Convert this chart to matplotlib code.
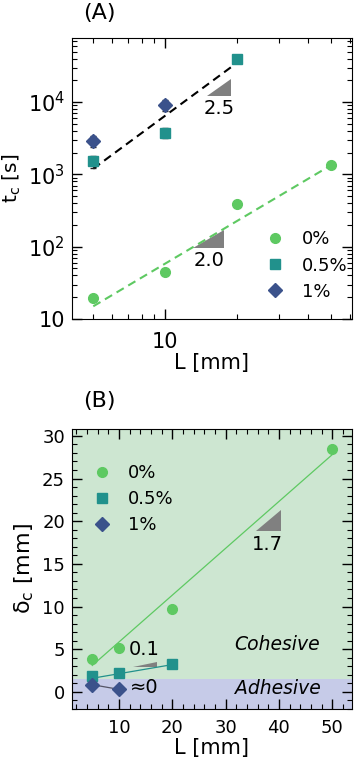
import matplotlib
matplotlib.use("Agg")
import matplotlib.pyplot as plt
from matplotlib.ticker import LogLocator, FixedLocator, FixedFormatter, MultipleLocator, NullFormatter
import numpy as np

plt.rcParams['font.family'] = ['DejaVu Sans']
plt.rcParams['font.size'] = 12

# colours for the three concentrations
C0 = '#5ec962'
C05 = '#21918c'
C1 = '#3b528b'

labels = ['0%', '0.5%', '1%']

# panel A : critical time vs length
L0_a = [5, 10, 20, 50]
tc0 = [19.3, 45, 389, 1360]
L05_a = [5, 10, 20]
tc05 = [1515, 3780, 39400]
tc05_err = [300, 600, 0]
L1_a = [5, 10]
tc1 = [2870, 9040]
tc1_err = [500, 1500]

fit_black_x = [5, 20]
fit_black_y = [1200, 34700]
fit_green_x = [5, 50]
fit_green_y = [15, 1350]

# panel B : critical displacement vs length
L0_b = [5, 10, 20, 50]
d0 = [3.86, 5.19, 9.72, 28.45]
L05_b = [5, 10, 20]
d05 = [1.83, 2.22, 3.31]
L1_b = [5, 10]
d1 = [0.85, 0.39]

line0_x = [5, 50]
line0_y = [3.1, 27.8]
line05_x = [5, 20]
line05_y = [1.6, 3.2]
line1_x = [5, 10]
line1_y = [0.85, 0.3]

fig = plt.figure(figsize=(3.55, 7.59), dpi=100)
W, H = 355, 759
axA = fig.add_axes([72 / W, 1 - 319 / H, 280 / W, 281 / H])
axB = fig.add_axes([72 / W, 1 - 709 / H, 280 / W, 280 / H])

tick_kw = dict(direction='in', top=True, right=True)

# ---------- panel A ----------
axA.set_xscale('log')
axA.set_yscale('log')
axA.plot(fit_black_x, fit_black_y, '--', color='black', lw=1.5, dashes=(4, 2.5), zorder=2)
axA.plot(fit_green_x, fit_green_y, '--', color=C0, lw=1.5, dashes=(4, 2.5), zorder=2)
axA.errorbar(L05_a, tc05, yerr=tc05_err, fmt='none', ecolor='#222222',
             elinewidth=0.8, capsize=2.5, zorder=2.5)
axA.errorbar(L1_a, tc1, yerr=tc1_err, fmt='none', ecolor='#222222',
             elinewidth=0.8, capsize=2.5, zorder=2.5)
axA.plot(L0_a, tc0, 'o', color=C0, ms=7, label=labels[0], zorder=3)
axA.plot(L05_a, tc05, 's', color=C05, ms=7, label=labels[1], zorder=3)
axA.plot(L1_a, tc1, 'D', color=C1, ms=7, label=labels[2], zorder=3)

axA.fill([14.96, 18.9, 18.9], [12100, 12100, 20700], color='gray', lw=0)
axA.text(16.9, 11000, '2.5', ha='center', va='top', fontsize=14)
axA.fill([13.15, 17.7, 17.7], [95, 95, 170], color='gray', lw=0)
axA.text(15.3, 88, '2.0', ha='center', va='top', fontsize=14)

axA.set_xlim(4.07, 61)
axA.set_ylim(10, 7.7e4)
axA.xaxis.set_major_locator(FixedLocator([10]))
axA.xaxis.set_major_formatter(FixedFormatter(['10']))
axA.xaxis.set_minor_locator(LogLocator(base=10, subs=np.arange(2, 10), numticks=10))
axA.xaxis.set_minor_formatter(NullFormatter())
axA.yaxis.set_major_locator(FixedLocator([10, 100, 1000, 10000]))
axA.yaxis.set_major_formatter(FixedFormatter(['10', r'$10^2$', r'$10^3$', r'$10^4$']))
axA.yaxis.set_minor_locator(LogLocator(base=10, subs=np.arange(2, 10), numticks=10))
axA.yaxis.set_minor_formatter(NullFormatter())
axA.tick_params(which='major', length=7, width=1, labelsize=15, **tick_kw)
axA.tick_params(which='minor', length=3.5, width=0.8, **tick_kw)
axA.tick_params(axis='x', which='major', pad=9)
axA.tick_params(axis='y', which='major', pad=5)
axA.set_xlabel('L [mm]', fontsize=15, labelpad=1)
axA.set_ylabel(r'$\mathregular{t_c}$ [s]', fontsize=14.5)
axA.yaxis.set_label_coords(-49 / 280, 0.5)
axA.legend(loc='lower right', frameon=False, handlelength=1.0, handletextpad=1.0,
           borderaxespad=0.3, fontsize=13, labelspacing=0.45, bbox_to_anchor=(1.03, 0.02))
fig.text(83 / W, 1 - 13 / H, '(A)', ha='left', va='center', fontsize=16)

# ---------- panel B ----------
axB.axhspan(1.55, 31, color='#cde6d1', lw=0, zorder=0)
axB.axhspan(-2, 1.55, color='#c6cbe8', lw=0, zorder=0)
axB.plot(line0_x, line0_y, '-', color=C0, lw=0.9, zorder=2)
axB.plot(line05_x, line05_y, '-', color=C05, lw=0.9, zorder=2)
axB.plot(line1_x, line1_y, '-', color='#555566', lw=0.9, zorder=2)
axB.plot(L0_b, d0, 'o', color=C0, ms=7, label=labels[0], zorder=3)
axB.plot(L05_b, d05, 's', color=C05, ms=7, label=labels[1], zorder=3)
axB.plot(L1_b, d1, 'D', color=C1, ms=7, label=labels[2], zorder=3)

axB.fill([35.7, 40.3, 40.3], [18.9, 18.9, 21.3], color='gray', lw=0)
axB.text(37.9, 18.4, '1.7', ha='center', va='top', fontsize=14)
axB.fill([12.7, 17.1, 17.1], [2.93, 2.93, 3.47], color='gray', lw=0)
axB.text(14.7, 3.9, '0.1', ha='center', va='bottom', fontsize=14)
axB.text(12.0, 0.55, '≈0', ha='left', va='center', fontsize=14)
axB.text(39.6, 5.5, 'Cohesive', ha='center', va='center', style='italic', fontsize=13.5)
axB.text(39.8, 0.35, 'Adhesive', ha='center', va='center', style='italic', fontsize=13.5)

axB.set_xlim(1.2, 53.7)
axB.set_ylim(-2, 30.8)
axB.xaxis.set_major_locator(MultipleLocator(10))
axB.xaxis.set_minor_locator(MultipleLocator(2))
axB.yaxis.set_major_locator(MultipleLocator(5))
axB.yaxis.set_minor_locator(MultipleLocator(1))
axB.tick_params(which='major', length=7, width=1, labelsize=13, **tick_kw)
axB.tick_params(which='minor', length=3.5, width=0.8, **tick_kw)
axB.tick_params(axis='x', which='major', pad=7)
axB.tick_params(axis='y', which='major', pad=5)
axB.set_xlabel('L [mm]', fontsize=15, labelpad=1)
axB.set_ylabel(r'$\mathregular{\delta_c}$ [mm]', fontsize=16, labelpad=4)
axB.legend(loc='upper left', frameon=False, handlelength=1.0, handletextpad=0.9,
           borderaxespad=0.0, fontsize=13, labelspacing=0.45, bbox_to_anchor=(0.05, 0.9))
fig.text(83 / W, 1 - 401 / H, '(B)', ha='left', va='center', fontsize=16)

fig.savefig('out.png', dpi=100)
